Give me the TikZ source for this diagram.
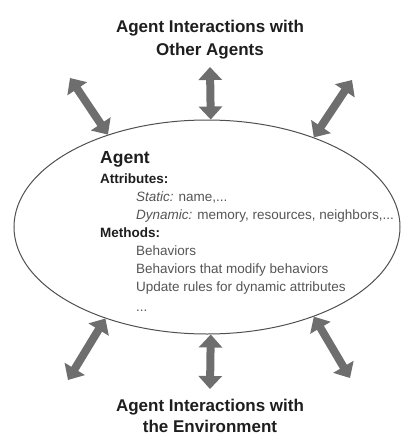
\documentclass[tikz,border=0pt]{standalone}
\usepackage{fontspec}
\setmainfont{Liberation Sans}
\usetikzlibrary{shapes.geometric,arrows.meta}
\definecolor{arrowgray}{HTML}{6E6E6E}
\definecolor{linegray}{HTML}{505050}
\definecolor{bodygray}{HTML}{555555}
\definecolor{titlegray}{HTML}{1E1E1E}
\tikzset{
  bigarrow/.style={draw=arrowgray, line width=8pt,
    {Triangle[width=23pt,length=13pt]}-{Triangle[width=23pt,length=13pt]}},
  title/.style={font=\fontsize{17}{23}\selectfont\bfseries, text=titlegray, align=center, inner sep=0},
  heading/.style={font=\fontsize{17.5}{20}\selectfont\bfseries, text=titlegray, anchor=base west, inner sep=0},
  subhead/.style={font=\fontsize{13.5}{16}\selectfont\bfseries, text=titlegray, anchor=base west, inner sep=0},
  body/.style={font=\fontsize{13.5}{16}\selectfont, text=bodygray, anchor=base west, inner sep=0},
}
\begin{document}
\begin{tikzpicture}[x=1pt,y=-1pt]
\useasboundingbox (0,0) rectangle (400,437);
\node[draw=linegray, line width=1pt, ellipse, minimum width=386pt, minimum height=214pt, inner sep=0] (agent) at (207,227) {};
% titles
\node[title] (toptitle) at (210,40) {Agent Interactions with\\Other Agents};
\node[title, font=\fontsize{17}{21}\selectfont\bfseries] (bottitle) at (210,416) {Agent Interactions with\\the Environment};
% body text
\node[heading] (name) at (100,163) {Agent};
\node[subhead] (attr) at (100,183) {Attributes:};
\node[body] (static) at (136,201) {\itshape Static:\upshape{} name,...};
\node[body] (dyn) at (136,219) {\itshape Dynamic:\upshape{} memory, resources, neighbors,...};
\node[subhead] (meth) at (100,237) {Methods:};
\node[body] (beh) at (136,255) {Behaviors};
\node[body] (behmod) at (136,273) {Behaviors that modify behaviors};
\node[body] (upd) at (136,291) {Update rules for dynamic attributes};
\node[body] (dots) at (136,311) {...};
% arrow free ends
\coordinate (tl) at (70,78);
\coordinate (tm) at (210,67);
\coordinate (tr) at (352,80);
\coordinate (bl) at (68,380);
\coordinate (bm) at (210,389);
\coordinate (br) at (350,378);
% arrows
\draw[bigarrow] (tl) -- (agent.137);
\draw[bigarrow] (tm) -- (agent.88);
\draw[bigarrow] (tr) -- (agent.40);
\draw[bigarrow] (bl) -- (agent.222);
\draw[bigarrow] (bm) -- (agent.272);
\draw[bigarrow] (br) -- (agent.320);
\end{tikzpicture}
\end{document}
